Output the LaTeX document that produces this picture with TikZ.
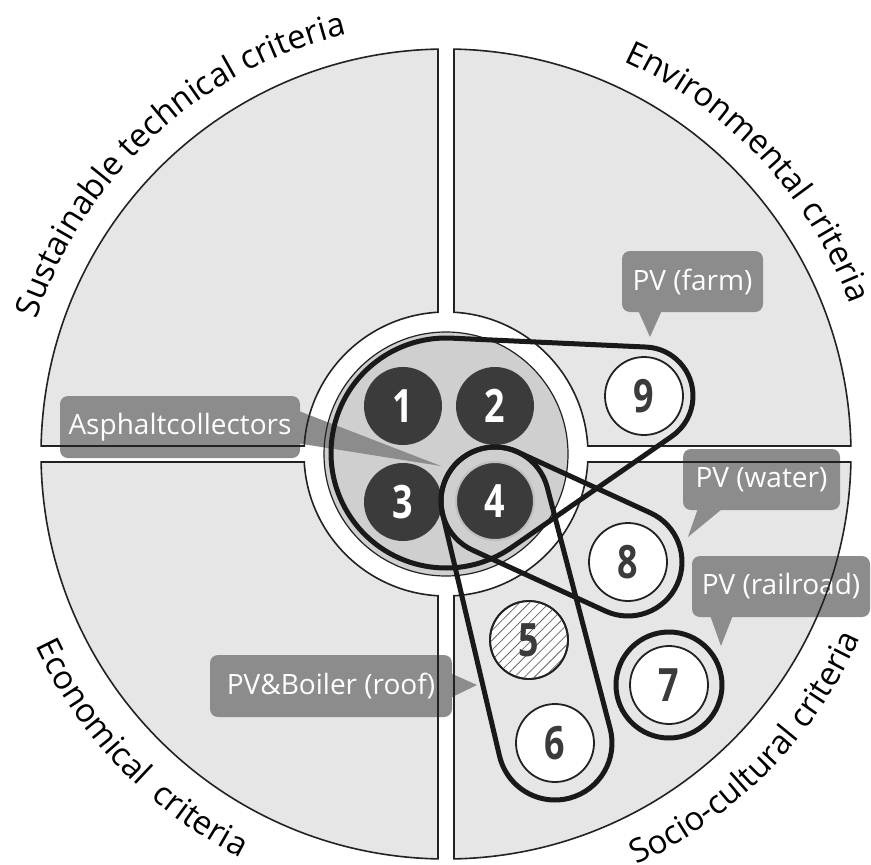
\documentclass[tikz,border=0pt]{standalone}
\usepackage{fontspec}
\setmainfont{Open Sans}
\newfontfamily\numfont{Open Sans}[FakeStretch=0.78]
\usetikzlibrary{calc,decorations.text,patterns.meta}
\definecolor{quadfill}{HTML}{E6E6E6}
\definecolor{diskfill}{HTML}{CFCFCF}
\definecolor{darkc}{HTML}{3B3B3B}
\definecolor{callfill}{HTML}{8C8C8C}
\definecolor{inkc}{HTML}{222222}
\newcommand\hullpath[6]{%
  \pgfmathsetmacro\hphi{atan2((#5)-(#2),(#4)-(#1))}%
  \pgfmathsetmacro\hd{veclen((#4)-(#1),(#5)-(#2))}%
  \pgfmathsetmacro\halpha{acos(((#3)-(#6))/\hd)}%
  \pgfmathsetmacro\hA{\hphi+\halpha}%
  \pgfmathsetmacro\hB{\hphi-\halpha}%
  \pgfmathsetmacro\hC{\hphi+\halpha-360}%
  \draw[loopline] ($(#1,#2)+(\hA:#3)$) -- ($(#4,#5)+(\hA:#6)$)
    arc[start angle=\hA, end angle=\hB, radius=#6]
    -- ($(#1,#2)+(\hB:#3)$)
    arc[start angle=\hB, end angle=\hC, radius=#3] -- cycle;
}
\newcommand\qlab{\fontsize{33}{33}\selectfont}
\tikzset{
  callout/.style={fill=callfill, rounded corners=8pt, text=white, inner sep=0pt,
    font=\fontsize{28}{28}\selectfont},
  darkcirc/.style={circle, fill=darkc, minimum size=78pt, inner sep=0pt, text=white,
    font=\numfont\bfseries\fontsize{46}{46}\selectfont},
  whitecirc/.style={circle, fill=white, draw=inkc, line width=1.8pt, minimum size=78pt,
    inner sep=0pt, text=darkc, font=\numfont\bfseries\fontsize{46}{46}\selectfont},
  loopline/.style={line width=5pt, draw=black!90, line join=round},
  quadline/.style={draw=inkc, line width=1.6pt},
}
\begin{document}
\begin{tikzpicture}[x=1pt,y=1pt]
\useasboundingbox (0,0) rectangle (871,-865);
\fill[white] (0,0) rectangle (871,-865);
\coordinate (C) at (446,-454);
\pgfmathsetmacro\tho{asin(8/405)}
\pgfmathsetmacro\thi{asin(8/142)}
% quadrant fills
\foreach \k in {0,90,180,270}{
  \fill[quadfill] ($(C)+(\k+\tho:405)$) arc[start angle=\k+\tho, end angle=\k+90-\tho, radius=405]
    -- ($(C)+(\k+90-\thi:142)$) arc[start angle=\k+90-\thi, end angle=\k+\thi, radius=142] -- cycle;
}
% inner disk
\node[circle, fill=diskfill, minimum size=244pt, inner sep=0pt] (disk) at (C) {};
% callouts
\node[callout, minimum width=240pt, minimum height=62pt] (ac) at (180,-427) {Asphaltcollectors};
\coordinate (acTip) at (441,-466);
\fill[callfill] ([xshift=-4pt,yshift=17pt]ac.east) -- ([xshift=-4pt,yshift=-16pt]ac.east) -- (acTip) -- cycle;
\node[callout, minimum width=141pt, minimum height=61pt] (farm) at (692.5,-281.5) {PV (farm)};
\coordinate (farmTip) at (650,-337);
\fill[callfill] ([xshift=-54.5pt,yshift=2pt]farm.south) -- ([xshift=-30.5pt,yshift=2pt]farm.south) -- (farmTip) -- cycle;
\node[callout, minimum width=157pt, minimum height=61pt] (water) at (761.5,-479.5) {PV (water)};
\coordinate (waterTip) at (688,-537);
\fill[callfill] ([xshift=-63.5pt,yshift=2pt]water.south) -- ([xshift=-38.5pt,yshift=2pt]water.south) -- (waterTip) -- cycle;
\node[callout, minimum width=178pt, minimum height=61pt] (rail) at (781,-586.5) {PV (railroad)};
\coordinate (railTip) at (721,-646);
\fill[callfill] ([xshift=-71pt,yshift=2pt]rail.south) -- ([xshift=-48pt,yshift=2pt]rail.south) -- (railTip) -- cycle;
\node[callout, minimum width=242pt, minimum height=62pt] (roof) at (331,-686) {PV\&Boiler (roof)};
\coordinate (roofTip) at (477,-685);
\fill[callfill] ([xshift=-2pt,yshift=13pt]roof.east) -- ([xshift=-2pt,yshift=-12pt]roof.east) -- (roofTip) -- cycle;
% quadrant outlines
\foreach \k in {0,90,180,270}{
  \draw[quadline] ($(C)+(\k+\tho:405)$) arc[start angle=\k+\tho, end angle=\k+90-\tho, radius=405]
    -- ($(C)+(\k+90-\thi:142)$) arc[start angle=\k+90-\thi, end angle=\k+\thi, radius=142] -- cycle;
}
\draw[draw=inkc, line width=1.2pt] (disk.center) circle[radius=122];
% circles
\node[darkcirc] (n1) at (403,-406) {1};
\node[darkcirc] (n2) at (495,-406) {2};
\node[darkcirc] (n3) at (403,-502) {3};
\node[darkcirc, draw=black!25, line width=2pt] (n4) at (495,-501) {4};
\node[whitecirc, fill=white] (n5) at (529,-640) {};
\fill[pattern={Lines[angle=45,distance=7pt,line width=0.8pt]}, pattern color=black!60] (n5.center) circle[radius=38];
\node[whitecirc, fill=none] at (n5.center) {5};
\node[whitecirc] (n6) at (555,-743) {6};
\node[whitecirc] (n7) at (669,-685) {7};
\node[whitecirc] (n8) at (628,-562) {8};
\node[whitecirc] (n9) at (644,-396) {9};
% loops
\hullpath{446}{-453}{115}{644}{-396}{49}
\hullpath{495}{-501}{54}{628}{-562}{54}
\hullpath{495}{-501}{54}{555}{-743}{57}
\draw[loopline] (n7.center) circle[radius=53];
% quadrant labels
\begin{scope}[shift={(C)}]
\path[decorate, decoration={text along path, text align=center,
  text={|\qlab|Sustainable technical criteria}}]
  (172.5:431) arc[start angle=172.5, end angle=92.5, radius=431];
\path[decorate, decoration={text along path, text align=center,
  text={|\qlab|Environmental criteria}}]
  (83:431) arc[start angle=83, end angle=3, radius=431];
\path[decorate, decoration={text along path, text align=center,
  text={|\qlab|Economical{\kern8pt} criteria}}]
  (184:453) arc[start angle=184, end angle=264, radius=453];
\path[decorate, decoration={text along path, text align=center,
  text={|\qlab|Socio-cultural criteria}}]
  (275.5:453) arc[start angle=275.5, end angle=355.5, radius=453];
\end{scope}
\end{tikzpicture}
\end{document}
